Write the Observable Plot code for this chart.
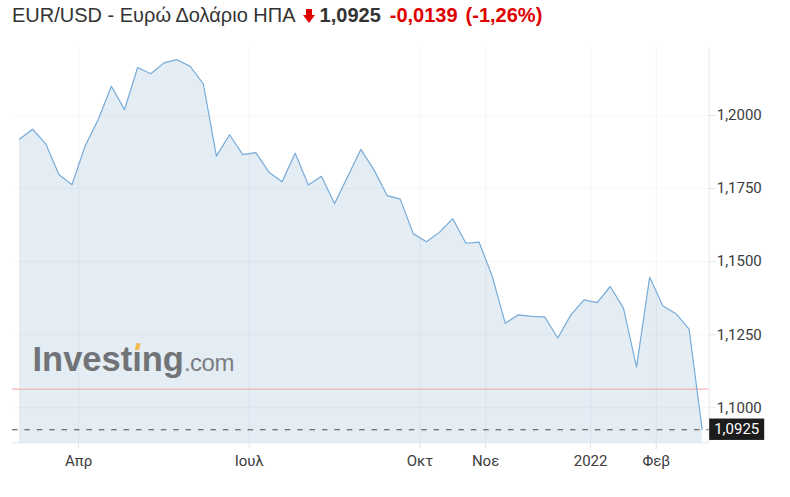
<!DOCTYPE html>
<html>
<head>
<meta charset="utf-8">
<script src="https://cdn.jsdelivr.net/npm/d3@7"></script>
<script src="https://cdn.jsdelivr.net/npm/@observablehq/plot@0.6"></script>
<style>
  html, body { margin: 0; padding: 0; background: #fff; }
  #wrap { position: relative; width: 790px; height: 497px; overflow: hidden; }
  #title { position: absolute; left: 12px; top: 3px; line-height: 24px; font-family: "Liberation Sans", Arial, sans-serif; font-size: 20px; color: #333; white-space: nowrap; }
  #title .px { font-weight: bold; color: #333; margin-left: 5px; }
  #title .chg { font-weight: bold; color: #e00000; margin-left: 9px; }
  #title .arrow { display: inline-block; width: 12px; height: 14px; margin-left: 7px; vertical-align: -1px; }
  #chart { position: absolute; left: 0; top: 36px; }
  #wm { position: absolute; left: 0; top: 0; pointer-events: none; }
</style>
</head>
<body>
<div id="wrap">
  <div id="title"></div>
  <div id="chart"></div>
  <svg id="wm" width="790" height="497"></svg>
</div>
<script>
// ---- data (weekly closes, EUR/USD) ----
const closes = [1.1919, 1.1953, 1.1903, 1.1798, 1.1763, 1.1896, 1.1986, 1.2100, 1.2020, 1.2164,
                1.2143, 1.2180, 1.2191, 1.2168, 1.2108, 1.1861, 1.1934, 1.1866, 1.1873, 1.1806,
                1.1773, 1.1871, 1.1762, 1.1792, 1.1698, 1.1791, 1.1884, 1.1814, 1.1726, 1.1714,
                1.1595, 1.1568, 1.1601, 1.1647, 1.1563, 1.1567, 1.1451, 1.1289, 1.1318, 1.1313,
                1.1311, 1.1239, 1.1318, 1.1369, 1.1360, 1.1415, 1.1341, 1.1139, 1.1447, 1.1349,
                1.1322, 1.1269, 1.0925];
const monthLabels = ["Απρ", "Ιουλ", "Οκτ", "Νοε", "2022", "Φεβ"];
const monthFirstWeek = [5, 18, 31, 36, 44, 49];   // index of first weekly bar of each month
const yTicks = [1.1, 1.125, 1.15, 1.175, 1.2];
const prevClose = 1.1064;
const lastClose = 1.0925;
const change = -0.0139;
const changePct = -1.26;
const titleText = "EUR/USD - Ευρώ Δολάριο ΗΠΑ";

// ---- helpers ----
const fmt4 = v => d3.format(".4f")(v).replace(".", ",");
const fmtChg = v => (v < 0 ? "-" : "+") + d3.format(".4f")(Math.abs(v)).replace(".", ",");
const fmtPct = v => "(" + (v < 0 ? "-" : "+") + d3.format(".2f")(Math.abs(v)).replace(".", ",") + "%)";

const rows = closes.map((v, i) => ({i, v}));
const tickPos = monthFirstWeek.map(i => i - 0.5);
const xDomain = [-0.533, closes.length - 1 + 0.533];
const yDomain = [1.08803, 1.22326];

// ---- title ----
document.getElementById("title").innerHTML =
  `<span>${titleText}</span>` +
  `<svg class="arrow" viewBox="0 0 12 14"><polygon points="3,0 9,0 9,6 12,6 6,14 0,6 3,6" fill="#e00000"/></svg>` +
  `<span class="px">${fmt4(lastClose)}</span>` +
  `<span class="chg">${fmtChg(change)}</span>` +
  `<span class="chg" style="margin-left:8px">${fmtPct(changePct)}</span>`;

// ---- chart ----
const chart = Plot.plot({
  width: 790,
  height: 461,
  marginTop: 11,
  marginBottom: 54.7,
  marginLeft: 12,
  marginRight: 81.3,
  x: {domain: xDomain, axis: null},
  y: {domain: yDomain, axis: null},
  style: {fontFamily: "Roboto, sans-serif", fontSize: "15px", background: "transparent", color: "#3c3c3c"},
  marks: [
    Plot.areaY(rows, {x: "i", y1: yDomain[0], y2: "v", fill: "#e4edf4"}),
    Plot.gridY(yTicks, {stroke: "#000", strokeOpacity: 0.035}),
    Plot.gridX(tickPos, {stroke: "#3a6a96", strokeOpacity: 0.07}),
    Plot.ruleY([prevClose], {stroke: "#f4a3a3", strokeWidth: 1}),
    Plot.ruleY([lastClose], {stroke: "#4a4a4a", strokeDasharray: "5.5,6.9", strokeWidth: 1.2}),
    Plot.lineY(rows, {x: "i", y: "v", stroke: "#78acd9", strokeWidth: 1.2}),
    Plot.ruleY([yDomain[0]], {stroke: "#dfe5ea"}),
    Plot.ruleX([xDomain[1]], {stroke: "#e3e8ee"}),
    Plot.axisX(tickPos, {
      label: null,
      tickFormat: d => monthLabels[tickPos.indexOf(d)],
      tickSize: 6, tickPadding: 7, stroke: "#dfe5ea", fill: "#3c3c3c", fontSize: 15
    }),
    Plot.axisY(yTicks, {
      label: null,
      anchor: "right", tickFormat: fmt4, tickSize: 6, tickPadding: 1.5,
      stroke: "#dfe5ea", fill: "#3c3c3c", fontSize: 15
    })
  ]
});
document.getElementById("chart").appendChild(chart);

// last value label on the price axis
const ys = chart.scale("y").apply(lastClose);
const xs = chart.scale("x").apply(xDomain[1]);
const g = d3.select(chart).append("g");
g.append("rect").attr("x", xs + 0.5).attr("y", ys - 10.7).attr("width", 55).attr("height", 21.4).attr("fill", "#1c1c1c");
g.append("text").attr("x", xs + 28).attr("y", ys).attr("dy", "0.35em").attr("text-anchor", "middle")
  .attr("fill", "#fff").attr("font-family", "Roboto, sans-serif").attr("font-size", 15).text(fmt4(lastClose));

// ---- watermark ----
const wm = d3.select("#wm");
const t = wm.append("text").attr("x", 32.5).attr("y", 371).attr("fill", "#717477")
  .attr("font-family", "Liberation Sans, Arial, sans-serif");
const main = t.append("tspan").attr("font-size", 34.5).attr("font-weight", "bold").text("Investıng");
t.append("tspan").attr("font-size", 24).attr("letter-spacing", -0.5).attr("fill", "#7b7e81").text(".com");
const ext = main.node().getExtentOfChar(6);
const cx = ext.x + ext.width / 2;
wm.append("polygon")
  .attr("points", `${cx - 2.2},350 ${cx - 0.6},343.3 ${cx + 3.6},343.3 ${cx + 2},350`)
  .attr("fill", "#f2b84b");
</script>
</body>
</html>
